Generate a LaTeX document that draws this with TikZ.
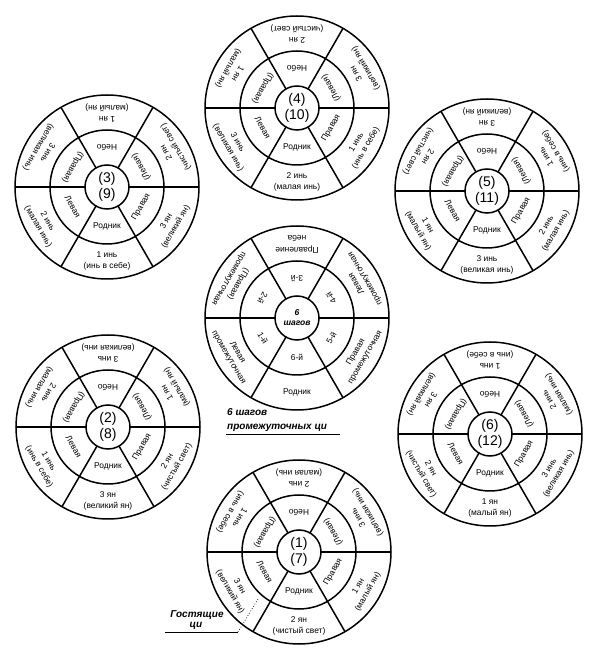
\documentclass[tikz,border=0pt]{standalone}
\usepackage{fontspec}
\setmainfont{Liberation Sans}
\usetikzlibrary{calc}
\tikzset{
  ring/.style={line width=1.5pt},
  outerlbl/.style={font=\fontsize{8.4}{9}\selectfont, inner sep=0pt},
  midlbl/.style={font=\fontsize{8.4}{9}\selectfont, inner sep=0pt},
  numlbl/.style={font=\fontsize{14}{16}\selectfont, align=center, inner sep=0pt},
  stepslbl/.style={font=\fontsize{8.5}{10}\selectfont\bfseries\itshape, align=center, inner sep=0pt},
  caption/.style={font=\fontsize{10}{11}\selectfont\bfseries\itshape, inner sep=0pt},
  underl/.style={line width=0.7pt},
  leader/.style={line width=0.7pt, dotted},
}
\def\Ro{92}
\def\midstd{90/Небо,30/(Левая),-30/Правая,-90/Родник,210/Левая,150/(Правая)}
\newcommand\wheelframe[2]{%
  \coordinate (#1) at #2;
  \draw[ring] (#1) circle[radius=\Ro pt];
  \draw[ring] (#1) circle[radius=57pt];
  \draw[ring] (#1) circle[radius=22pt];
  \foreach \ang in {0,60,...,300}
    \draw[ring] ($(#1)+(\ang:22pt)$) -- ($(#1)+(\ang:\Ro pt)$);
}
\newcommand\drawwheel[5]{%
  \wheelframe{#1}{#2}
  \node[numlbl] (#1-n) at (#1) {#3};
  \foreach \ang/\la/\lb [count=\k] in {#4} {
    \node[outerlbl, rotate=\ang+90] (#1-o\k-a) at ($(#1)+(\ang:68pt)$) {\la};
    \node[outerlbl, rotate=\ang+90] (#1-o\k-b) at ($(#1)+(\ang:79.5pt)$) {\lb};
  }
  \foreach \ang/\lm [count=\k] in #5 {
    \node[midlbl, rotate=\ang+90] (#1-m\k) at ($(#1)+(\ang:39.5pt)$) {\lm};
  }
}
\begin{document}
\begin{tikzpicture}[x=1pt,y=1pt]
\useasboundingbox (0,0) rectangle (600,665);
\fill[white] (0,0) rectangle (600,665);

% (4)(10) top centre
\drawwheel{wa}{(297,557)}{(4)\\(10)}{90/2 ян/(чистый свет),30/3 ян/(великий ян),-30/1 инь/(инь в себе),-90/2 инь/(малая инь),210/3 инь/(великая инь),150/1 ян/(малый ян)}{\midstd}
% (3)(9) top left
\drawwheel{wb}{(107,478)}{(3)\\(9)}{90/1 ян/(малый ян),30/2 ян/(чистый свет),-30/3 ян/(великий ян),-90/1 инь/(инь в себе),210/2 инь/(малая инь),150/3 инь/(великая инь)}{\midstd}
% (5)(11) top right
\drawwheel{wc}{(487,474)}{(5)\\(11)}{90/3 ян/(великий ян),30/1 инь/(инь в себе),-30/2 инь/(малая инь),-90/3 инь/(великая инь),210/1 ян/(малый ян),150/2 ян/(чистый свет)}{\midstd}
% (2)(8) middle left
\drawwheel{wd}{(108,238)}{(2)\\(8)}{90/3 инь/(великая инь),30/1 ян/(малый ян),-30/2 ян/(чистый свет),-90/3 ян/(великий ян),210/1 инь/(инь в себе),150/2 инь/(малая инь)}{\midstd}
% (6)(12) middle right
\drawwheel{we}{(490,231)}{(6)\\(12)}{90/1 инь/(инь в себе),30/2 инь/(малая инь),-30/3 инь/(великая инь),-90/1 ян/(малый ян),210/2 ян/(чистый свет),150/3 ян/(великий ян)}{\midstd}
% (1)(7) bottom
\drawwheel{wf}{(299,113)}{(1)\\(7)}{90/2 инь/(малая инь),30/3 инь/(великая инь),-30/1 ян/(малый ян),-90/2 ян/(чистый свет),210/3 ян/(великий ян),150/1 инь/(инь в себе)}{\midstd}

% centre wheel: 6 steps
\wheelframe{ws}{(297,347)}
\node[stepslbl] (ws-n) at (ws) {6\\шагов};
\foreach \ang/\la/\lb [count=\k] in {90/Правление/неба,30/Левая/промежуточная,-30/Правая/промежуточная,210/Левая/промежуточная,150/(Правая)/промежуточная} {
  \node[outerlbl, rotate=\ang+90] (ws-o\k-a) at ($(ws)+(\ang:68pt)$) {\la};
  \node[outerlbl, rotate=\ang+90] (ws-o\k-b) at ($(ws)+(\ang:79.5pt)$) {\lb};
}
\node[outerlbl] (ws-o6) at ($(ws)+(-90:74pt)$) {Родник};
\foreach \ang/\lm [count=\k] in {90/3-й,30/4-й,-30/5-й,-90/6-й,210/1-й,150/2-й} {
  \node[midlbl, rotate=\ang+90] (ws-m\k) at ($(ws)+(\ang:39.5pt)$) {\lm};
}

% captions
\node[caption, anchor=west] (capa) at (227,253) {6 шагов};
\node[caption, anchor=west] (capb) at (227,237) {промежуточных ци};
\coordinate (capbl) at (226,231);
\coordinate (capbr) at (340,231);
\draw[underl] (capbl) -- (capbr);

\node[caption] (capc) at (197,50) {Гостящие};
\node[caption] (capd) at (196,39) {ци};
\coordinate (capdl) at (165,33);
\coordinate (capdr) at (238,33);
\coordinate (capdt) at (258,66);
\draw[underl] (capdl) -- (capdr);
\draw[leader] (capdr) -- (capdt);
\end{tikzpicture}
\end{document}
